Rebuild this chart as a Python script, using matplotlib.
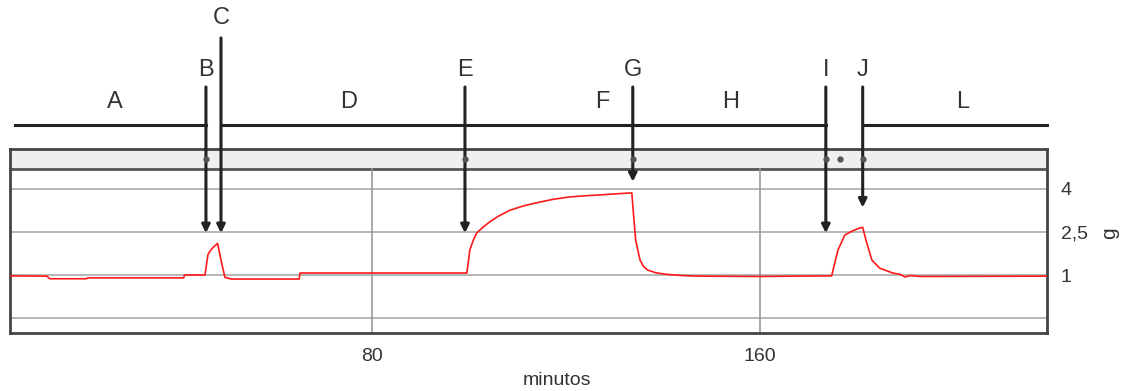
import matplotlib
matplotlib.use("Agg")
import matplotlib.pyplot as plt

plt.rcParams['font.family'] = ['Liberation Sans', 'DejaVu Sans']

# ---- data (minutes, g) ----
trace_t = [5.4, 13.0, 13.6, 21.2, 21.4, 41.2, 41.4, 45.6, 46.2, 46.5, 47.2, 48.2,
           48.8, 49.7, 51.0, 65.0, 65.2, 99.4, 99.6, 100.2, 101.0, 101.6, 103.0,
           104.3, 106.0, 108.5, 111.5, 114.6, 117.5, 120.8, 124.0, 127.0, 130.5,
           133.6, 134.0, 134.4, 135.3, 136.0, 136.9, 138.5, 140.4, 144.0, 147.6,
           160.0, 174.8, 176.1, 177.5, 179.0, 180.6, 181.2, 181.9, 183.1, 184.7,
           187.4, 189.0, 189.9, 191.0, 193.0, 219.2]
trace_v = [0.97, 0.96, 0.87, 0.87, 0.90, 0.90, 1.00, 1.00, 1.70, 1.80, 1.95, 2.10,
           1.60, 0.92, 0.86, 0.86, 1.07, 1.07, 1.07, 1.87, 2.25, 2.46, 2.68,
           2.85, 3.04, 3.26, 3.42, 3.54, 3.64, 3.72, 3.76, 3.79, 3.83,
           3.86, 3.00, 2.20, 1.52, 1.30, 1.17, 1.08, 1.03, 0.98, 0.96,
           0.95, 0.97, 1.87, 2.39, 2.53, 2.64, 2.66, 2.20, 1.52, 1.24,
           1.07, 1.02, 0.93, 0.98, 0.95, 0.96]

x_ticks = [80, 160]
y_ticks = [4, 2.5, 1]
y_ticklabels = ['4', '2,5', '1']
y_grid = [4, 2.5, 1, -0.5]

event_labels = ['B', 'C', 'E', 'G', 'I', 'J']
event_times = [45.8, 48.9, 99.2, 133.8, 173.6, 181.2]
event_tips = [2.46, 2.46, 2.46, 4.25, 2.46, 3.35]
band_marks = [45.8, 99.2, 133.8, 173.6, 176.5, 181.2]

period_labels = ['A', 'D', 'F', 'H', 'L']
period_centers = [27.0, 75.3, 127.6, 154.0, 201.9]

# ---- figure ----
fig = plt.figure(figsize=(11.29, 3.91), dpi=100)
ax = fig.add_axes([10/1129, 1-333/391, 1037/1129, 184/391])
ax.set_xlim(5.4, 219.2)
ax.set_ylim(-1.02, 5.39)

BAND_LO = 4.69
ax.axhspan(BAND_LO, 5.39, color='#efefef', zorder=0)
ax.axhline(BAND_LO, color='#555555', lw=2, zorder=1)

for y in y_grid:
    ax.axhline(y, color='#aaaaaa', lw=1.2, zorder=1)
for x in x_ticks:
    ax.plot([x, x], [-1.02, BAND_LO], color='#999999', lw=1.2, zorder=1)

ax.plot(trace_t, trace_v, color='#ff1a1a', lw=1.2, zorder=3)

for s in ax.spines.values():
    s.set_color('#444444')
    s.set_linewidth(2)

ax.set_xticks(x_ticks)
ax.set_xticklabels([str(x) for x in x_ticks], fontsize=14, color='#333333')
ax.tick_params(axis='x', length=0, pad=11)
ax.yaxis.tick_right()
ax.set_yticks(y_ticks)
ax.set_yticklabels(y_ticklabels, fontsize=14, color='#333333')
ax.tick_params(axis='y', length=0, pad=10)
ax.annotate('minutos', xy=(118.1, 0), xycoords=('data', 'axes fraction'),
            xytext=(0, -34), textcoords='offset points', fontsize=14,
            color='#333333', ha='center', va='center')
ax.text(1.06, (2.46 + 1.02) / 6.41, 'g', transform=ax.transAxes, rotation=90,
        fontsize=15, color='#333333', ha='center', va='center')

# ---- top annotation: horizontal bar with gaps ----
BAR_Y = 6.23
ax.plot([6.4, event_times[0]], [BAR_Y, BAR_Y], color='#222222', lw=2.2, clip_on=False)
ax.plot([event_times[1], event_times[4]], [BAR_Y, BAR_Y], color='#222222', lw=2.2, clip_on=False)
ax.plot([event_times[5], 219.2], [BAR_Y, BAR_Y], color='#222222', lw=2.2, clip_on=False)

for lab, t, tip in zip(event_labels, event_times, event_tips):
    top = 9.26 if lab == 'C' else 7.55
    ly = 9.95 if lab == 'C' else 8.14
    ax.annotate('', xy=(t, tip), xytext=(t, top),
                arrowprops=dict(arrowstyle='-|>', lw=2.2, color='#222222',
                                mutation_scale=12, shrinkA=0, shrinkB=0),
                annotation_clip=False, zorder=5)
    ax.text(t, ly, lab, fontsize=17, color='#333333', ha='center', va='center',
            clip_on=False)

for lab, c in zip(period_labels, period_centers):
    ax.text(c, 7.03, lab, fontsize=17, color='#333333', ha='center', va='center',
            clip_on=False)

ax.plot(band_marks, [5.04] * len(band_marks), linestyle='none', marker='o',
        markersize=3.5, color='#555555', zorder=6)

fig.savefig('out.png', dpi=100)
